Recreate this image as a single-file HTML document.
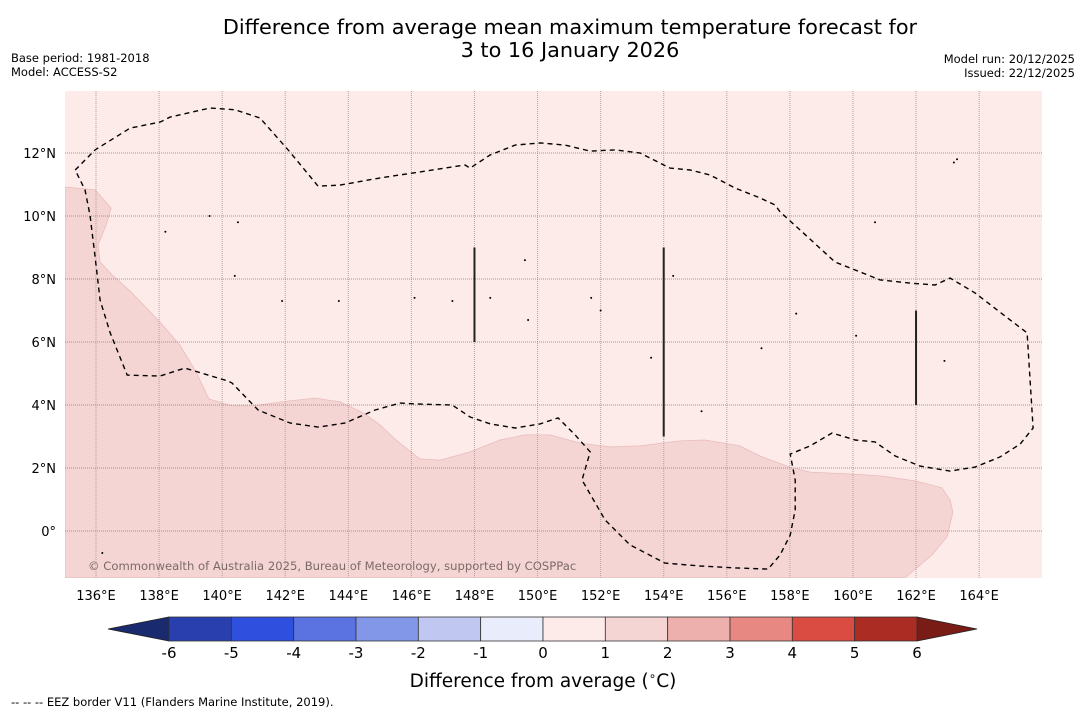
<!DOCTYPE html>
<html><head><meta charset="utf-8"><style>
html,body{margin:0;padding:0;background:#fff;}
svg{display:block;font-family:"DejaVu Sans","Liberation Sans",sans-serif;}
</style></head><body>
<svg id="c" width="1085" height="713" viewBox="0 0 1085 713" xmlns="http://www.w3.org/2000/svg">
<text x="570" y="34" font-size="20.8" text-anchor="middle" fill="#000">Difference from average mean maximum temperature forecast for</text>
<text x="570" y="57" font-size="20.8" text-anchor="middle" fill="#000">3 to 16 January 2026</text>
<text x="11" y="62" font-size="11.5">Base period: 1981-2018</text>
<text x="11" y="76" font-size="11.5">Model: ACCESS-S2</text>
<text x="1075" y="63" font-size="11.5" text-anchor="end">Model run: 20/12/2025</text>
<text x="1075" y="77" font-size="11.5" text-anchor="end">Issued: 22/12/2025</text>
<defs><clipPath id="mapclip"><rect x="65" y="91" width="977" height="487"/></clipPath></defs>
<g id="map" clip-path="url(#mapclip)"></g>
<g id="axes"></g>
<g id="cbar"></g>
<text x="543" y="687" font-size="18.5" text-anchor="middle">Difference from average (<tspan font-size="12" dy="-7">∘</tspan><tspan dy="7">C)</tspan></text>
<text x="11" y="706" font-size="11.5">--  --  -- EEZ border V11 (Flanders Marine Institute, 2019).</text>
</svg>
<script>
const lonTicks=[136,138,140,142,144,146,148,150,152,154,156,158,160,162,164];
const latTicks=[0,2,4,6,8,10,12];
const cbLevels=[-6,-5,-4,-3,-2,-1,0,1,2,3,4,5,6];
const cbColors=['#2a3fae','#2f4fdf','#5a73e0','#8297e8','#c0c8f2','#e9ecfa','#fcebe9','#f5d5d4','#eeb0ac','#e88882','#da4c42','#ab2c23'];
const anomalyLevel=[0.5,1.5];
const warmLon=[135.02,135.97,136.48,136.32,136.06,136.13,136.51,137.11,138.03,138.66,139.17,139.58,140.31,140.95,142.15,142.94,143.74,144.47,145.00,145.51,146.27,146.91,147.86,148.81,149.60,150.39,151.35,152.30,153.25,154.52,155.31,156.42,157.05,158.00,158.64,159.91,160.86,161.97,162.82,163.08,163.17,162.98,162.51,161.65,135.02];
const warmLat=[10.92,10.83,10.25,9.71,9.08,8.54,8.13,7.59,6.63,5.90,5.05,4.19,3.97,3.97,4.13,4.22,4.10,3.75,3.37,2.89,2.29,2.25,2.51,2.89,3.05,3.05,2.79,2.67,2.70,2.86,2.89,2.70,2.38,2.03,1.87,1.81,1.75,1.59,1.37,0.98,0.60,-0.19,-0.76,-1.49,-1.49];
const eezLon=[135.34,135.97,137.08,138.03,138.35,139.62,140.41,141.20,142.15,143.04,143.74,145.01,146.28,147.70,147.86,148.50,149.29,150.08,150.87,151.67,152.46,153.25,154.20,154.84,155.47,156.26,157.06,157.53,157.69,158.32,159.43,160.86,161.81,162.60,163.08,163.87,164.66,165.52,165.71,165.30,164.66,163.87,163.08,162.13,161.34,160.70,160.07,159.34,158.64,158.01,158.17,158.17,158.01,157.69,157.31,156.26,155.15,154.04,152.93,152.14,151.41,151.67,151.19,150.65,150.08,149.29,148.50,147.86,147.29,146.28,145.64,144.85,143.90,143.04,142.15,141.14,140.31,140.19,138.82,138.03,136.99,136.45,136.13,135.97,135.81,135.65,135.34];
const eezLat=[11.46,12.10,12.79,12.98,13.14,13.43,13.37,13.11,12.03,10.95,10.98,11.21,11.40,11.62,11.52,11.94,12.25,12.32,12.25,12.06,12.10,12.00,11.52,11.46,11.30,10.89,10.57,10.35,10.13,9.56,8.54,7.97,7.87,7.81,8.03,7.56,6.95,6.29,3.27,2.76,2.35,2.03,1.90,2.06,2.38,2.83,2.89,3.11,2.70,2.44,1.62,0.67,-0.13,-0.76,-1.21,-1.17,-1.11,-1.02,-0.44,0.35,1.62,2.51,3.05,3.59,3.40,3.27,3.40,3.62,4.00,4.03,4.06,3.84,3.43,3.30,3.43,3.84,4.70,4.76,5.17,4.92,4.95,6.29,7.33,8.70,10.03,10.83,11.46];
const borderLon=[148,154,162];
const borderLat0=[6,3,4];
const borderLat1=[9,9,7];
const islandLon=[136.2,138.2,139.6,140.5,140.4,141.9,143.7,146.1,147.3,148.5,149.6,149.7,151.7,152.0,153.6,154.3,155.2,157.1,158.2,160.1,160.7,162.9,163.2,163.3];
const islandLat=[-0.7,9.5,10.0,9.8,8.1,7.3,7.3,7.4,7.3,7.4,8.6,6.7,7.4,7.0,5.5,8.1,3.8,5.8,6.9,6.2,9.8,5.4,11.7,11.8];

const X=lon=>96+(lon-136)*31.54;
const Y=lat=>531-lat*31.5;
const CX=v=>543+v*62.33;
const NS='http://www.w3.org/2000/svg';
function mk(tag,attrs,parent){const e=document.createElementNS(NS,tag);for(const k in attrs)e.setAttribute(k,attrs[k]);parent.appendChild(e);return e;}
const map=document.getElementById('map'),axes=document.getElementById('axes'),cbar=document.getElementById('cbar');
function colorFor(v){const i=cbLevels.findIndex((l,j)=>j<cbLevels.length-1&&v>=l&&v<cbLevels[j+1]);return cbColors[i];}

let bg=mk('rect',{x:65,y:91,width:977,height:487,fill:colorFor(anomalyLevel[0])},map);


let pts=warmLon.map((l,i)=>X(l).toFixed(1)+','+Y(warmLat[i]).toFixed(1)).join(' ');
let wp=mk('polygon',{points:pts,fill:colorFor(anomalyLevel[1]),stroke:'#e8bcbc','stroke-width':0.8},map);



lonTicks.forEach(l=>{
  let g=mk('line',{x1:X(l),x2:X(l),y1:91,y2:578,stroke:'#b8a0a0','stroke-width':1,'stroke-dasharray':'1,1'},map);
  
  
  let t=mk('text',{x:X(l),y:600,'font-size':13,'text-anchor':'middle'},axes);
  t.textContent=l+'°E';
  
  
});
latTicks.forEach(l=>{
  let g=mk('line',{x1:65,x2:1042,y1:Y(l),y2:Y(l),stroke:'#a89090','stroke-width':1,'stroke-dasharray':'1,1'},map);
  
  
  let t=mk('text',{x:56,y:Y(l)+5,'font-size':13,'text-anchor':'end'},axes);
  t.textContent=l===0?'0°':l+'°N';
  
  
});
islandLon.forEach((l,i)=>{
  let c=mk('circle',{cx:X(l),cy:Y(islandLat[i]),r:1,fill:'#000'},map);
  
  
});
let ep=eezLon.map((l,i)=>X(l).toFixed(1)+','+Y(eezLat[i]).toFixed(1)).join(' ');
let ee=mk('polyline',{points:ep,fill:'none',stroke:'#000','stroke-width':1.4,'stroke-dasharray':'5,4'},map);


borderLon.forEach((l,i)=>{
  let b=mk('line',{x1:X(l),x2:X(l),y1:Y(borderLat0[i]),y2:Y(borderLat1[i]),stroke:'#222','stroke-width':2},map);
  
  
});
let cr=mk('text',{x:88,y:570,'font-size':11.6,fill:'#7a6a6a'},map);
cr.textContent='© Commonwealth of Australia 2025, Bureau of Meteorology, supported by COSPPac';



const cy0=617,cy1=641;
let lo=mk('polygon',{points:`${CX(cbLevels[0])},${cy0} ${CX(cbLevels[0])},${cy1} 108,${(cy0+cy1)/2}`,fill:'#1a2a6e',stroke:'#222','stroke-width':0.8},cbar);


let last=cbLevels[cbLevels.length-1];
let hi=mk('polygon',{points:`${CX(last)},${cy0} ${CX(last)},${cy1} 977,${(cy0+cy1)/2}`,fill:'#7a1c16',stroke:'#222','stroke-width':0.8},cbar);


cbColors.forEach((c,i)=>{
  let r=mk('rect',{x:CX(cbLevels[i]),y:cy0,width:CX(cbLevels[i+1])-CX(cbLevels[i]),height:cy1-cy0,fill:c,stroke:'#333','stroke-width':0.8},cbar);
  
  
});
cbLevels.forEach(v=>{
  let t=mk('text',{x:CX(v),y:658,'font-size':15,'text-anchor':'middle'},cbar);
  t.textContent=String(v);
  
  
});
</script>
</body></html>
